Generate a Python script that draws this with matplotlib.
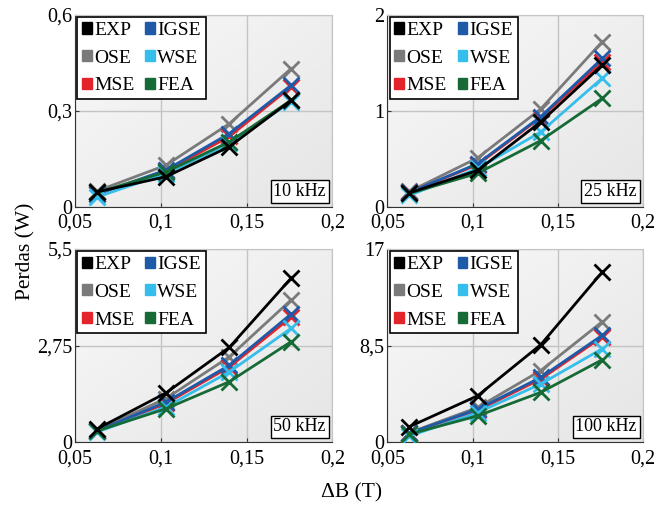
import numpy as np
import matplotlib.pyplot as plt
from matplotlib.patches import Patch

plt.rcParams['font.family'] = ['Liberation Serif', 'DejaVu Serif']
plt.rcParams['font.size'] = 14

# dados
dB = [0.063, 0.103, 0.140, 0.176]
freqs = ['10 kHz', '25 kHz', '50 kHz', '100 kHz']
ymax = [0.6, 2, 5.5, 17]
yticklbl = [['0', '0,3', '0,6'], ['0', '1', '2'], ['0', '2,75', '5,5'], ['0', '8,5', '17']]
xticklbl = ['0,05', '0,1', '0,15', '0,2']

exp = [[0.047, 0.094, 0.188, 0.333], [0.146, 0.38, 0.885, 1.476],
       [0.38, 1.40, 2.70, 4.67], [1.36, 4.08, 8.58, 14.97]]
ose = [[0.05, 0.13, 0.26, 0.432], [0.16, 0.51, 1.02, 1.72],
       [0.35, 1.24, 2.43, 4.05], [0.83, 3.05, 6.3, 10.6]]
igse = [[0.04, 0.115, 0.229, 0.38], [0.15, 0.45, 0.94, 1.545],
        [0.32, 1.14, 2.19, 3.65], [0.8, 2.9, 5.7, 9.4]]
mse = [[0.04, 0.112, 0.22, 0.375], [0.15, 0.44, 0.93, 1.51],
       [0.32, 1.10, 2.14, 3.56], [0.78, 2.8, 5.55, 9.26]]
wse = [[0.031, 0.104, 0.198, 0.328], [0.12, 0.40, 0.78, 1.34],
       [0.29, 1.0, 2.0, 3.24], [0.53, 2.6, 5.12, 8.22]]
fea = [[0.045, 0.109, 0.203, 0.333], [0.14, 0.35, 0.69, 1.13],
       [0.32, 0.95, 1.72, 2.86], [0.7, 2.31, 4.38, 7.25]]

cores = {'EXP': 'black', 'IGSE': '#1f5aa8', 'OSE': '#7a7a7a',
         'WSE': '#35bdeb', 'MSE': '#e3242b', 'FEA': '#166a35'}
# ordem de desenho (EXP por cima)
series = [('OSE', ose), ('MSE', mse), ('IGSE', igse), ('WSE', wse), ('FEA', fea), ('EXP', exp)]

fig = plt.figure(figsize=(6.7, 5.07), dpi=100)
pos = [[0.112, 0.592, 0.384, 0.379], [0.578, 0.592, 0.382, 0.379],
       [0.112, 0.128, 0.384, 0.381], [0.578, 0.128, 0.382, 0.381]]

# fundo em degrade cinza claro
g = np.linspace(0, 1, 100)
G = (g[None, :] + g[:, None]) / 2
shade = 0.975 - 0.075 * G
bg = np.dstack([shade, shade, shade])

for i in range(4):
    ax = fig.add_axes(pos[i])
    ax.imshow(bg, extent=[0, 1, 0, 1], transform=ax.transAxes,
              aspect='auto', zorder=0, origin='upper')
    for nome, dados in series:
        ax.plot(dB, dados[i], color=cores[nome], lw=2, marker='x', ms=12, mew=2, zorder=3)
    ax.set_xlim(0.05, 0.2)
    ax.set_ylim(0, ymax[i])
    ax.set_xticks([0.05, 0.1, 0.15, 0.2])
    ax.set_xticklabels(xticklbl)
    ax.set_yticks([0, ymax[i] / 2, ymax[i]])
    ax.set_yticklabels(yticklbl[i])
    ax.grid(True, color='#c4c4c4', lw=1, zorder=1)
    ax.set_axisbelow(True)
    ax.tick_params(direction='in', length=3, color='#333333', labelsize=14.5)
    ax.tick_params(axis='x', pad=5)
    ax.tick_params(axis='y', pad=2)
    ax.spines['left'].set_color('#333333')
    ax.spines['bottom'].set_color('#333333')
    ax.spines['top'].set_color('#c4c4c4')
    ax.spines['right'].set_color('#c4c4c4')
    ax.text(0.975, 0.035, freqs[i], transform=ax.transAxes, ha='right', va='bottom', fontsize=13,
            bbox=dict(boxstyle='square,pad=0.15', fc='white', ec='black', lw=1), zorder=5)
    handles = [Patch(color=cores[n], label=n) for n in ['EXP', 'OSE', 'MSE', 'IGSE', 'WSE', 'FEA']]
    leg = ax.legend(handles=handles, ncol=2, loc='upper left', fontsize=14, fancybox=False,
                    edgecolor='black', framealpha=1, borderaxespad=0.12, handlelength=0.5,
                    handleheight=0.5, handletextpad=0.12, columnspacing=0.55, labelspacing=0.55,
                    borderpad=0.25)
    leg.get_frame().set_linewidth(1.2)
    leg.set_zorder(6)

fig.text(0.038, 0.505, 'Perdas (W)', rotation=90, ha='center', va='center', fontsize=15.5)
fig.text(0.525, 0.027, '\u0394B (T)', ha='center', va='center', fontsize=15.5)

plt.savefig('out.png', dpi=100)
